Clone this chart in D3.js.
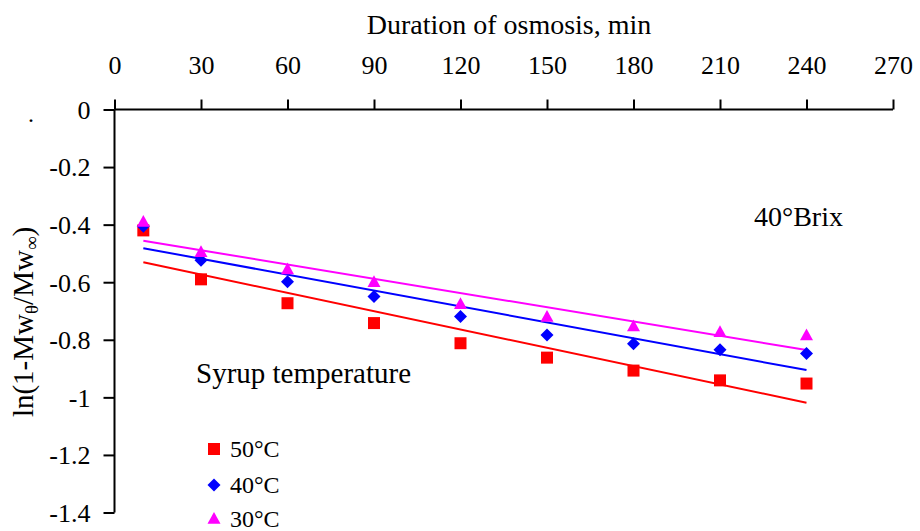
<!DOCTYPE html>
<html>
<head>
<meta charset="utf-8">
<script src="https://cdn.jsdelivr.net/npm/d3@7"></script>
<style>
  html, body { margin: 0; padding: 0; background: #fff; }
  svg, svg text { font-family: "Liberation Serif", "Times New Roman", serif; }
</style>
</head>
<body>
<svg id="chart" width="920" height="531"></svg>
<script>
// ---- data ----
const durations = [10, 30, 60, 90, 120, 150, 180, 210, 240];
const series50 = [-0.42, -0.59, -0.673, -0.742, -0.812, -0.862, -0.907, -0.941, -0.952];
const series40 = [-0.406, -0.524, -0.598, -0.650, -0.719, -0.783, -0.814, -0.835, -0.848];
const series30 = [-0.391, -0.496, -0.556, -0.600, -0.677, -0.721, -0.754, -0.774, -0.785];
const seriesNames = ["50°C", "40°C", "30°C"];
const seriesColors = ["#FF0000", "#0000FF", "#FF00FF"];
const seriesShapes = ["square", "diamond", "triangle"];
const xTicks = [0, 30, 60, 90, 120, 150, 180, 210, 240, 270];
const yTicks = [0, -0.2, -0.4, -0.6, -0.8, -1, -1.2, -1.4];
const xTitle = "Duration of osmosis, min";
const noteText = "40°Brix";
const legendTitle = "Syrup temperature";

// ---- layout ----
const FONT = "'Liberation Serif', 'Times New Roman', serif";
const svg = d3.select("#chart");
const x = d3.scaleLinear().domain([0, 270]).range([114.5, 893]);
const y = d3.scaleLinear().domain([0, -1.4]).range([109.5, 512.5]);

const allSeries = [series50, series40, series30];

// Excel-style linear trendline
function linfit(xs, ys) {
  const mx = d3.mean(xs), my = d3.mean(ys);
  let sxy = 0, sxx = 0;
  xs.forEach((v, i) => { sxy += (v - mx) * (ys[i] - my); sxx += (v - mx) * (v - mx); });
  const b = sxy / sxx;
  return { a: my - b * mx, b };
}

// axes
const xAxis = d3.axisTop(x).tickValues(xTicks).tickSize(10).tickPadding(26).tickFormat(d3.format("d"));
const yAxis = d3.axisLeft(y).tickValues(yTicks).tickSize(11).tickPadding(13).tickFormat(d => d === 0 ? "0" : String(d));

const gx = svg.append("g").attr("transform", `translate(0,${y(0)})`).call(xAxis);
const gy = svg.append("g").attr("transform", `translate(${x(0)},0)`).call(yAxis);
[gx, gy].forEach(g => {
  g.attr("font-family", null).attr("font-size", null);
  g.select(".domain").attr("stroke", "#000").attr("stroke-width", 2);
  g.selectAll(".tick line").attr("stroke", "#000").attr("stroke-width", 2);
  g.selectAll(".tick text").attr("fill", "#000").style("font-size", "26px").style("font-family", FONT);
});
gx.select(".domain").attr("d", `M${x(0)},0H${x(270)}`);
gy.select(".domain").attr("d", `M0,${y(0)}V${y(-1.4)}`);
gy.selectAll(".tick text").attr("dy", "0.34em");

function txt(sel) { return sel.style("font-family", FONT).attr("fill", "#000"); }

// x title
txt(svg.append("text")).attr("x", 509).attr("y", 34).attr("text-anchor", "middle")
  .style("font-size", "28px").text(xTitle);

// y title
const yt = txt(svg.append("text"))
  .attr("transform", "rotate(-90)")
  .attr("x", -322).attr("y", 33)
  .attr("text-anchor", "middle").style("font-size", "29px");
yt.append("tspan").text("ln(1-Mw");
yt.append("tspan").style("font-size", "19px").attr("dy", 5).text("θ");
yt.append("tspan").attr("dy", -5).text("/Mw");
yt.append("tspan").style("font-size", "19px").attr("dy", 5).text("∞");
yt.append("tspan").attr("dy", -5).text(")");

// stray dot near origin
txt(svg.append("text")).attr("x", 28).attr("y", 122).style("font-size", "24px").text(".");

// trend lines
const line = d3.line().x(d => x(d[0])).y(d => y(d[1]));
allSeries.forEach((s, i) => {
  const f = linfit(durations, s);
  const x0 = d3.min(durations), x1 = d3.max(durations);
  svg.append("path")
    .attr("d", line([[x0, f.a + f.b * x0], [x1, f.a + f.b * x1]]))
    .attr("fill", "none").attr("stroke", seriesColors[i]).attr("stroke-width", 2);
});

// marker shapes
function shapePath(shape, cx, cy, s) {
  if (shape === "square") {
    const h = s / 2;
    return `M${cx - h},${cy - h}h${s}v${s}h${-s}Z`;
  }
  if (shape === "diamond") {
    const h = s / 2;
    return `M${cx},${cy - h}L${cx + h},${cy}L${cx},${cy + h}L${cx - h},${cy}Z`;
  }
  const h = s * 0.9;
  return `M${cx},${cy - h * 0.6}L${cx + s / 2},${cy + h * 0.4}L${cx - s / 2},${cy + h * 0.4}Z`;
}
const markerSize = [12, 13, 13];

allSeries.forEach((s, i) => {
  svg.append("g").selectAll("path").data(durations.map((d, j) => [d, s[j]]))
    .join("path")
    .attr("d", d => shapePath(seriesShapes[i], x(d[0]), y(d[1]), markerSize[i]))
    .attr("fill", seriesColors[i]);
});

// annotations
txt(svg.append("text")).attr("x", 754).attr("y", 226).style("font-size", "28px").text(noteText);
txt(svg.append("text")).attr("x", 196).attr("y", 383).style("font-size", "29px").text(legendTitle);

// legend
const legY = [449, 485, 519];
seriesNames.forEach((n, i) => {
  svg.append("path").attr("d", shapePath(seriesShapes[i], 214, legY[i], markerSize[i])).attr("fill", seriesColors[i]);
  txt(svg.append("text")).attr("x", 230).attr("y", legY[i] + 8).style("font-size", "24px").text(n);
});
</script>
</body>
</html>
